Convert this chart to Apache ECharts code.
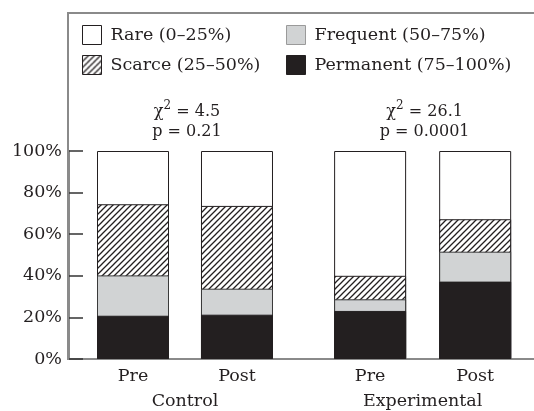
<!DOCTYPE html>
<html>
<head>
<meta charset="utf-8">
<script src="https://cdn.jsdelivr.net/npm/echarts@6/dist/echarts.min.js"></script>
<style>
html,body{margin:0;padding:0;background:#fff;}
#chart{width:534px;height:411px;}
</style>
</head>
<body>
<div id="chart"></div>
<script>
const categories = ['Pre', 'Post', 'Pre', 'Post'];
const groups = ['Control', 'Experimental'];
const barPositions = [1, 2, 3.28, 4.29];
const groupPositions = [1.5, 3.785];
const seriesNames = ['Rare (0–25%)', 'Scarce (25–50%)', 'Frequent (50–75%)', 'Permanent (75–100%)'];
const rare = [25.6, 26.4, 60.0, 32.8];
const scarce = [34.2, 39.8, 11.3, 15.6];
const frequent = [19.4, 12.5, 5.6, 14.4];
const permanent = [20.8, 21.3, 23.1, 37.2];
const yTicks = [0, 20, 40, 60, 80, 100];
const chiValues = ['4.5', '26.1'];
const pValues = ['0.21', '0.0001'];

const FONT = 'DejaVu Serif';
const INK = '#231f20';
const AXIS = '#8a8a8a';

// hatch pattern
const pc = document.createElement('canvas');
pc.width = 6; pc.height = 6;
const g = pc.getContext('2d');
g.fillStyle = '#fff'; g.fillRect(0, 0, 6, 6);
g.strokeStyle = INK; g.lineWidth = 1.3;
g.beginPath();
g.moveTo(0, 6); g.lineTo(6, 0);
g.moveTo(-1, 1); g.lineTo(1, -1);
g.moveTo(5, 7); g.lineTo(7, 5);
g.stroke();
const hatch = { image: pc, repeat: 'repeat' };

const fills = [
  { color: '#ffffff', border: INK },
  { color: hatch, border: INK },
  { color: '#d1d3d4', border: '#3a3a3a' },
  { color: INK, border: INK }
];
const values = [rare, scarce, frequent, permanent];

// stacked tops (bottom-up: permanent, frequent, scarce, rare)
const stackOrder = [3, 2, 1, 0];
const tops = {};
let running = barPositions.map(() => 0);
stackOrder.forEach(k => {
  running = running.map((r, i) => r + values[k][i]);
  tops[k] = running.slice();
});

// draw tallest first, smaller cumulative bars overlaid on top
const drawOrder = [0, 1, 2, 3];
const series = drawOrder.map(k => ({
  name: seriesNames[k],
  type: 'bar',
  barWidth: 72,
  barGap: '-100%',
  data: tops[k].map((v, i) => [barPositions[i], v]),
  itemStyle: { color: fills[k].color, borderColor: fills[k].border, borderWidth: 1 },
  emphasis: { disabled: true },
  animation: false
}));

const legendCommon = {
  orient: 'vertical',
  top: 25,
  padding: 0,
  itemWidth: 19,
  itemHeight: 19,
  itemGap: 10,
  icon: 'rect',
  selectedMode: false,
  textStyle: { fontFamily: FONT, fontSize: 17.5, color: INK, padding: [0, 0, 0, 4] }
};

const chart = echarts.init(document.getElementById('chart'), null, { renderer: 'canvas' });
chart.setOption({
  animation: false,
  backgroundColor: '#fff',
  grid: { left: 69, right: 0, top: 151, bottom: 52, containLabel: false },
  legend: [
    Object.assign({}, legendCommon, {
      left: 82,
      data: [
        { name: seriesNames[0], itemStyle: { borderColor: INK, borderWidth: 1 } },
        { name: seriesNames[1], itemStyle: { borderColor: INK, borderWidth: 1 } }
      ]
    }),
    Object.assign({}, legendCommon, {
      left: 286,
      data: [
        { name: seriesNames[2], itemStyle: { borderColor: '#9a9a9a', borderWidth: 1 } },
        { name: seriesNames[3], itemStyle: { borderColor: INK, borderWidth: 1 } }
      ]
    })
  ],
  xAxis: [
    {
      type: 'value', min: 0.3846, max: 4.8558,
      splitLine: { show: false },
      axisLine: { show: true, lineStyle: { color: AXIS, width: 2 } },
      axisTick: { show: false },
      axisLabel: {
        customValues: barPositions,
        margin: 8,
        fontFamily: FONT, fontSize: 17.5, color: INK,
        formatter: v => { const i = barPositions.indexOf(v); return i >= 0 ? categories[i] : ''; }
      }
    },
    {
      type: 'value', min: 0.3846, max: 4.8558,
      position: 'bottom', offset: 25,
      splitLine: { show: false },
      axisLine: { show: false },
      axisTick: { show: false },
      axisLabel: {
        customValues: groupPositions,
        margin: 8,
        fontFamily: FONT, fontSize: 17.5, color: INK,
        formatter: v => { const i = groupPositions.indexOf(v); return i >= 0 ? groups[i] : ''; }
      }
    }
  ],
  yAxis: {
    type: 'value', min: 0, max: 100, interval: 20,
    splitLine: { show: false },
    axisLine: { show: true, lineStyle: { color: AXIS, width: 2 } },
    axisTick: { show: true, inside: true, length: 14, lineStyle: { color: '#333', width: 1.5 } },
    axisLabel: {
      margin: 7,
      fontFamily: FONT, fontSize: 17.5, color: INK,
      formatter: v => yTicks.indexOf(v) >= 0 ? v + '%' : ''
    }
  },
  series: series
});

const graphics = [{
  type: 'rect', z: -1, silent: true,
  shape: { x: 68, y: 13, width: 600, height: 346 },
  style: { fill: 'none', stroke: AXIS, lineWidth: 2 }
}];
groupPositions.forEach((gp, i) => {
  const px = chart.convertToPixel({ xAxisIndex: 0 }, gp);
  graphics.push({
    type: 'text', silent: true,
    x: px + 2, y: 100,
    style: {
      text: '{c|χ}{s|2}{c| = ' + chiValues[i] + '}\n{c|p = ' + pValues[i] + '}',
      align: 'center',
      verticalAlign: 'top',
      fill: INK,
      rich: {
        c: { fontFamily: FONT, fontSize: 16, lineHeight: 20, verticalAlign: 'bottom', fill: INK },
        s: { fontFamily: FONT, fontSize: 12, lineHeight: 12, padding: [0, 0, 14, 0], verticalAlign: 'top', fill: INK }
      }
    }
  });
});
chart.setOption({ graphic: graphics });
</script>
</body>
</html>
